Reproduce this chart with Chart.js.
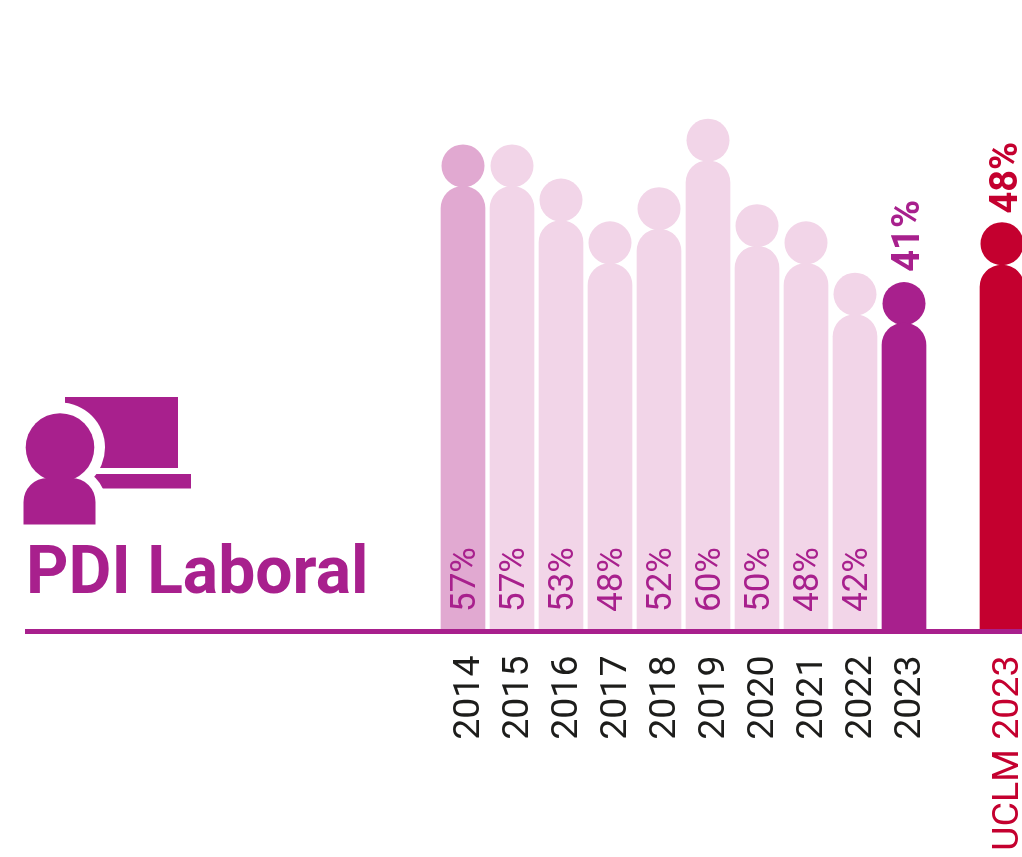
<!DOCTYPE html>
<html lang="es">
<head>
<meta charset="utf-8">
<title>PDI Laboral</title>
<script src="https://cdn.jsdelivr.net/npm/chart.js@4"></script>
<style>
  html, body { margin: 0; width: 1022px; height: 857px; overflow: hidden; background: #fff; }
  #chart { position: absolute; left: 0; top: 0; }
  #icon { position: absolute; left: 0; top: 380px; }
  #title {
    position: absolute; left: 26px; top: 532px;
    font: 700 66px/78px Roboto, sans-serif; color: #a8208d; white-space: nowrap;
  }
</style>
</head>
<body>
<canvas id="chart" width="1040" height="857"></canvas>
<svg id="icon" width="200" height="150" viewBox="0 380 200 150">
  <rect x="65" y="397" width="113" height="71" fill="#a8208d"/>
  <rect x="90" y="474" width="101" height="14.5" fill="#a8208d"/>
  <circle cx="60" cy="447.5" r="45" fill="#fff"/>
  <path d="M23.5 524.5V502a24 24 0 0 1 24-24h24a24 24 0 0 1 24 24v22.5z" fill="#a8208d" stroke="#fff" stroke-width="20"/>
  <rect x="0" y="524.5" width="110" height="20" fill="#fff"/>
  <circle cx="60" cy="447.5" r="34.3" fill="#a8208d"/>
  <path d="M23.5 524.5V502a24 24 0 0 1 24-24h24a24 24 0 0 1 24 24v22.5z" fill="#a8208d"/>
</svg>
<div id="title">PDI Laboral</div>
<script>
const categories = ["2014", "2015", "2016", "2017", "2018", "2019", "2020", "2021", "2022", "2023", "", "UCLM 2023"];
const values = [57, 57, 53, 48, 52, 60, 50, 48, 42, 41, null, 47.8];
const headValues = [59.4, 59.4, 55.4, 50.4, 54.4, 62.4, 52.4, 50.4, 44.4, 43.3, null, 50.3];
const barColors = ["#e1a9d1", "#f2d5e8", "#f2d5e8", "#f2d5e8", "#f2d5e8", "#f2d5e8", "#f2d5e8", "#f2d5e8", "#f2d5e8", "#a8208d", "#fff", "#c4002f"];

const PURPLE = "#a8208d";
const RED = "#c4002f";

function verticalText(ctx, text, x, y, font, color) {
    ctx.save();
    ctx.translate(x, y);
    ctx.rotate(-Math.PI / 2);
    ctx.font = font;
    ctx.fillStyle = color;
    ctx.textAlign = "left";
    ctx.textBaseline = "alphabetic";
    ctx.fillText(text, 0, 0);
    ctx.restore();
}

const labelsPlugin = {
    id: "percentLabels",
    afterDatasetsDraw(chart) {
        const ctx = chart.ctx;
        chart.getDatasetMeta(0).data.forEach((bar, i) => {
            if (values[i] === null) return;
            const text = Math.round(values[i]) + "%";
            if (i < 9) {
                verticalText(ctx, text, bar.x + 12, 612, "400 35px Roboto", PURPLE);
            } else {
                verticalText(ctx, text, bar.x + 15, bar.y - 43 - 8.5, "700 38px Roboto", i === 9 ? PURPLE : RED);
            }
        });
    },
};

// purple base line, runs further left than the plot area
const baseLinePlugin = {
    id: "baseLine",
    afterDraw(chart) {
        const ctx = chart.ctx;
        const y = chart.scales.y.getPixelForValue(5);
        ctx.fillStyle = PURPLE;
        ctx.fillRect(25, y - 2, chart.width - 25, 5);
    },
};

new Chart(document.getElementById("chart"), {
    type: "bar",
    data: {
        labels: categories,
        datasets: [
            {
                data: values,
                backgroundColor: barColors,
                barThickness: 44,
                borderRadius: { topLeft: 22, topRight: 22, bottomLeft: 0, bottomRight: 0 },
                borderSkipped: "bottom",
            },
            {
                type: "line",
                data: headValues,
                showLine: false,
                pointRadius: 21.5,
                pointBorderWidth: 0,
                pointBackgroundColor: barColors,
            },
        ],
    },
    options: {
        responsive: false,
        animation: false,
        layout: { autoPadding: false, padding: { left: 438.5, right: 13.5, top: 75.25, bottom: 0 } },
        plugins: { legend: { display: false }, tooltip: { enabled: false } },
        scales: {
            x: {
                grid: { display: false, drawTicks: false },
                border: { display: false },
                afterFit(scale) {
                    // fixed band for the labels, and no extra margin for the rotated ones
                    scale.height = 226;
                    scale.paddingLeft = 0;
                    scale.paddingRight = 0;
                },
                ticks: {
                    autoSkip: false,
                    minRotation: 90,
                    maxRotation: 90,
                    padding: 24.5,
                    labelOffset: 7,
                    font: { family: "Roboto", size: 37.5 },
                    color: (c) => (c.index === 11 ? RED : "#1d1d1b"),
                },
            },
            y: { display: false, min: 5, max: 70 },
        },
    },
    plugins: [labelsPlugin, baseLinePlugin],
});
</script>
</body>
</html>
